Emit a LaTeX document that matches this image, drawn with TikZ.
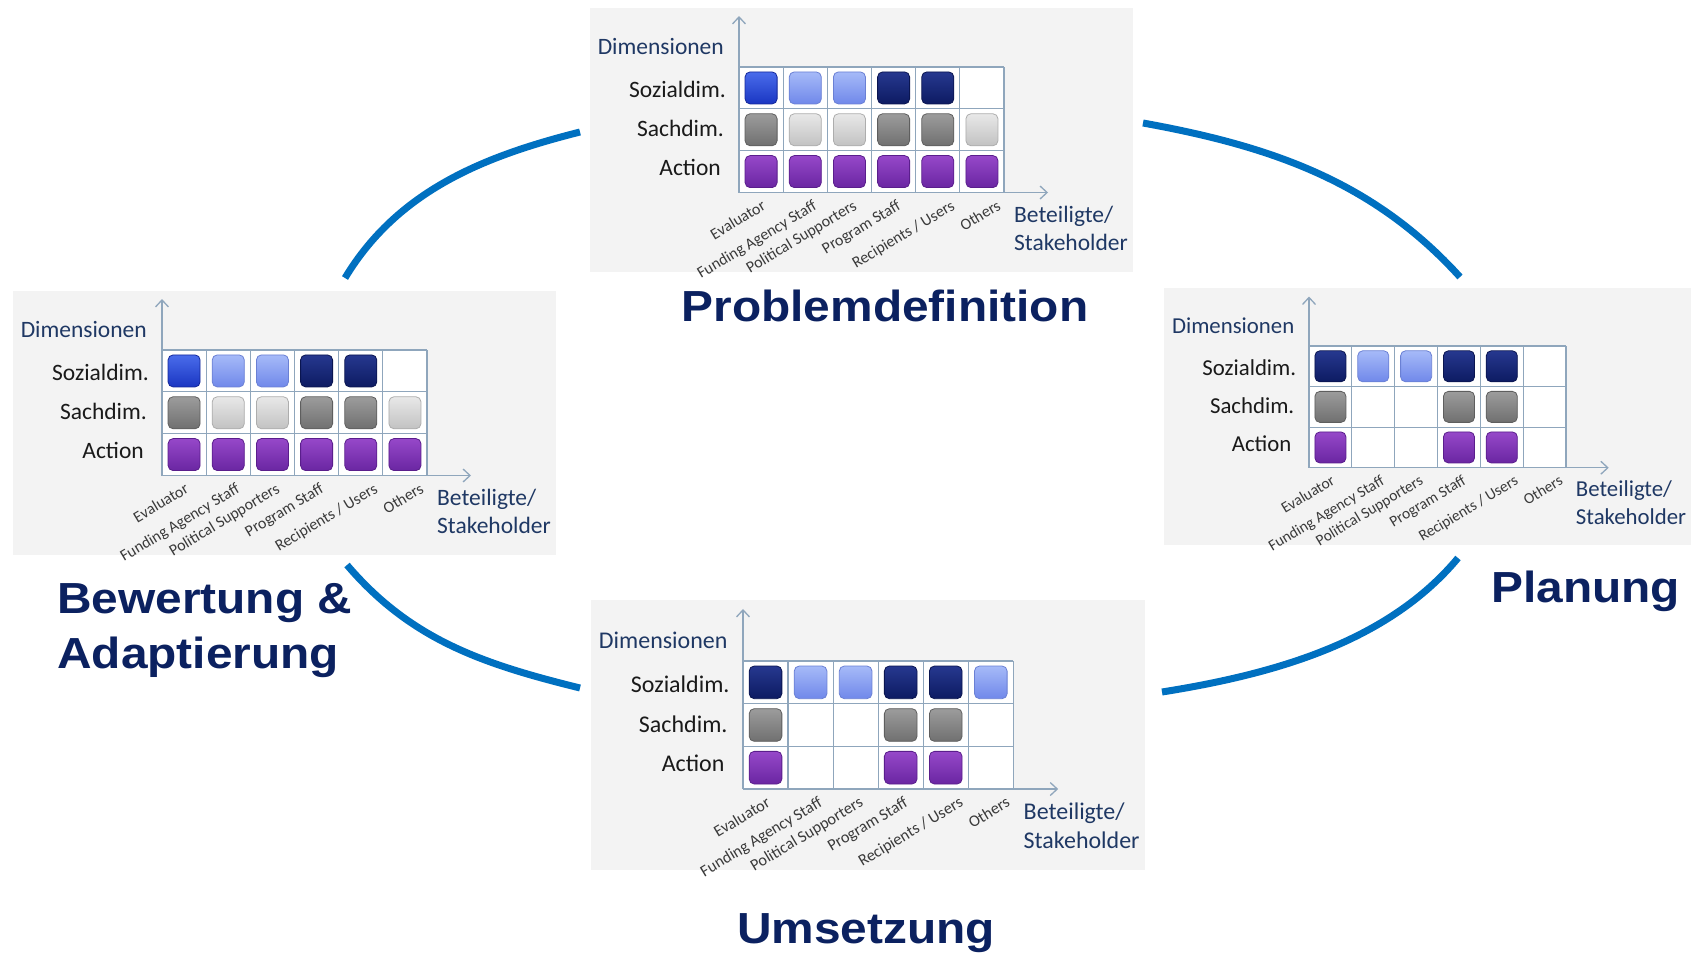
\documentclass[tikz,border=0pt]{standalone}
\usepackage{fontspec}
\setmainfont{Carlito}
\newfontfamily\titlefont{Liberation Sans}
\usepackage{xcolor}
\usepackage{tikz}
\usetikzlibrary{arrows.meta}
\definecolor{cyclearc}{HTML}{0070C0}
\definecolor{titleblue}{HTML}{0B2160}
\definecolor{axistext}{HTML}{1F3864}
\definecolor{rowtext}{HTML}{1A1A1A}
\definecolor{coltext}{HTML}{3A3A3A}
\definecolor{panelbg}{HTML}{F3F3F3}
\definecolor{gridcol}{HTML}{8FA6BC}
\definecolor{bbTop}{HTML}{4A6CEB}
\definecolor{bbBot}{HTML}{1A36C2}
\definecolor{bbLine}{HTML}{14289A}
\definecolor{lbTop}{HTML}{A6BAF8}
\definecolor{lbBot}{HTML}{7088EA}
\definecolor{lbLine}{HTML}{6A80D4}
\definecolor{nvTop}{HTML}{26388F}
\definecolor{nvBot}{HTML}{0D1B62}
\definecolor{nvLine}{HTML}{0A1550}
\definecolor{dgTop}{HTML}{9C9C9C}
\definecolor{dgBot}{HTML}{707070}
\definecolor{dgLine}{HTML}{5E5E5E}
\definecolor{lgTop}{HTML}{E8E8E8}
\definecolor{lgBot}{HTML}{C2C2C2}
\definecolor{lgLine}{HTML}{ADADAD}
\definecolor{puTop}{HTML}{9648C9}
\definecolor{puBot}{HTML}{6A26A2}
\definecolor{puLine}{HTML}{5A1E8C}

\tikzset{
  chartfont/.style={font=\fontsize{23.5}{28}\selectfont},
  rowlabel/.style={chartfont, text=rowtext, anchor=east, inner sep=0pt},
  dimlabel/.style={chartfont, text=axistext, inner sep=0pt},
  collabel/.style={font=\fontsize{16}{19}\selectfont, text=coltext, rotate=31,
                   anchor=north east, inner sep=0pt},
  gridln/.style={draw=gridcol, line width=1.2pt},
  chartaxis/.style={draw=gridcol, line width=1.3pt,
                    -{Straight Barb[length=7pt,width=13pt]}},
  sq/.style={minimum size=32pt, inner sep=0pt, rounded corners=5pt, line width=0.8pt},
  sbright/.style={sq, top color=bbTop, bottom color=bbBot, draw=bbLine},
  slight/.style={sq, top color=lbTop, bottom color=lbBot, draw=lbLine},
  snavy/.style={sq, top color=nvTop, bottom color=nvBot, draw=nvLine},
  sdgrey/.style={sq, top color=dgTop, bottom color=dgBot, draw=dgLine},
  slgrey/.style={sq, top color=lgTop, bottom color=lgBot, draw=lgLine},
  spurple/.style={sq, top color=puTop, bottom color=puBot, draw=puLine},
  phase/.style={font=\titlefont\bfseries\fontsize{43.5}{52}\selectfont, text=titleblue,
                inner sep=0pt, xscale=1.1},
  cyc/.style={draw=cyclearc, line width=7pt},
  pics/stakechart/.style n args={3}{code={
    \fill[panelbg] (-149,-59.5) rectangle (394,204.7);
    \fill[white] (0,0) rectangle (265,125.5);
    \foreach \i in {1,...,6} \draw[gridln] (\i*44.17,0) -- (\i*44.17,125.5);
    \foreach \j in {0,1,2} \draw[gridln] (0,\j*41.83) -- (265,\j*41.83);
    \draw[chartaxis] (0,125.5) -- (0,-51);
    \draw[chartaxis] (0,125.5) -- (309,125.5);
    \node[dimlabel, anchor=east] (-dim) at (-15,-20.5) {Dimensionen};
    \node[rowlabel] (-soz) at (-13,22.7) {Sozialdim.};
    \node[rowlabel] (-sach) at (-15,61.7) {Sachdim.};
    \node[rowlabel] (-act) at (-18,100.7) {Action};
    \node[dimlabel, anchor=north west, align=left] (-stake) at (275,139)
      {Beteiligte/\\Stakeholder};
    \foreach \lbl/\px [count=\k] in {Evaluator/22, {Funding Agency Staff}/73,
        {Political Supporters}/113, {Program Staff}/157,
        {Recipients / Users}/211, Others/257}
      \node[collabel] (-l\k) at (\px,132) {\lbl};
    \foreach \c/\s in {#1} \node[\s] (-a\c) at (\c*44.17-22.08,20.92) {};
    \foreach \c/\s in {#2} \node[\s] (-b\c) at (\c*44.17-22.08,62.75) {};
    \foreach \c/\s in {#3} \node[\s] (-c\c) at (\c*44.17-22.08,104.58) {};
  }}
}

\begin{document}
\begin{tikzpicture}[x=1pt, y=-1pt]
  \useasboundingbox (0,0) rectangle (1697,954);

  % cycle arcs
  \coordinate (tl0) at (345,278); \coordinate (tl1) at (580,132);
  \coordinate (tr0) at (1143,123); \coordinate (tr1) at (1460,277);
  \coordinate (br0) at (1458,558); \coordinate (br1) at (1162,692);
  \coordinate (bl0) at (347,565); \coordinate (bl1) at (580,688);
  \draw[cyc] (tl0) .. controls (398,190) and (485,156) .. (tl1);
  \draw[cyc] (tr0) .. controls (1270,146) and (1373,181) .. (tr1);
  \draw[cyc] (br0) .. controls (1388,642) and (1275,674) .. (br1);
  \draw[cyc] (bl0) .. controls (411,640) and (483,664) .. (bl1);

  % the four phases
  \pic (prob) at (739,67) {stakechart=%
    {1/sbright,2/slight,3/slight,4/snavy,5/snavy}%
    {1/sdgrey,2/slgrey,3/slgrey,4/sdgrey,5/sdgrey,6/slgrey}%
    {1/spurple,2/spurple,3/spurple,4/spurple,5/spurple,6/spurple}};
  \pic[scale=0.97, transform shape] (plan) at (1309,346) {stakechart=%
    {1/snavy,2/slight,3/slight,4/snavy,5/snavy}%
    {1/sdgrey,4/sdgrey,5/sdgrey}%
    {1/spurple,4/spurple,5/spurple}};
  \pic[scale=1.02, transform shape] (ums) at (743,661) {stakechart=%
    {1/snavy,2/slight,3/slight,4/snavy,5/snavy,6/slight}%
    {1/sdgrey,4/sdgrey,5/sdgrey}%
    {1/spurple,4/spurple,5/spurple}};
  \pic (bew) at (162,350) {stakechart=%
    {1/sbright,2/slight,3/slight,4/snavy,5/snavy}%
    {1/sdgrey,2/slgrey,3/slgrey,4/sdgrey,5/sdgrey,6/slgrey}%
    {1/spurple,2/spurple,3/spurple,4/spurple,5/spurple,6/spurple}};

  \node[phase, anchor=base] (tprob) at (885,321) {Problemdefinition};
  \node[phase, anchor=base west] (tplan) at (1491,602) {Planung};
  \node[phase, anchor=base west] (tbew) at (57,613) {Bewertung \&};
  \node[phase, anchor=base west] (tadapt) at (57,668) {Adaptierung};
  \node[phase, anchor=base] (tums) at (866,943) {Umsetzung};
\end{tikzpicture}
\end{document}
